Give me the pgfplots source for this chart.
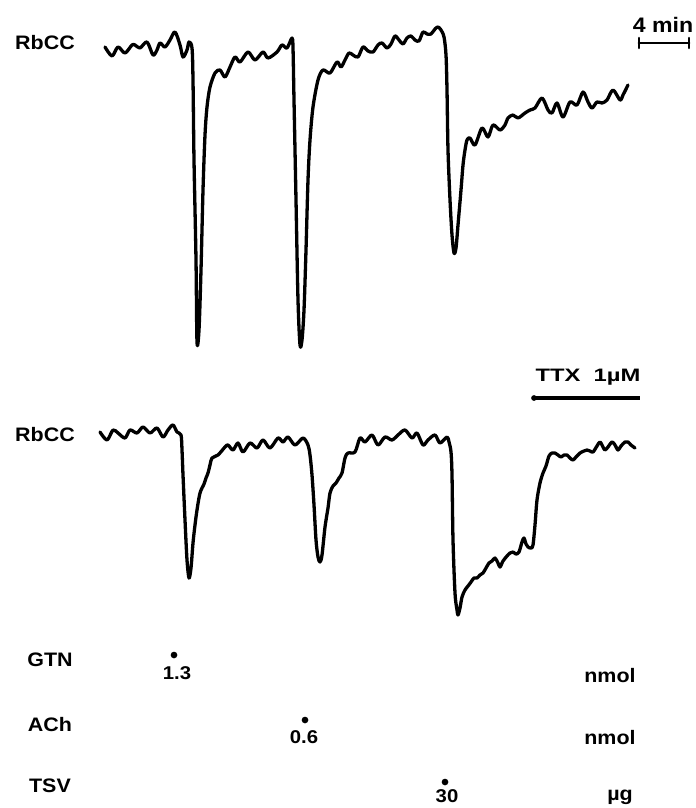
\documentclass[border=0pt]{standalone}
\usepackage{fontspec}
\setmainfont{Liberation Sans}
\newfontfamily\lab{Liberation Sans Bold}[FakeStretch=1.1]
\usepackage{pgfplots}
\pgfplotsset{compat=1.18}
\usepackage{graphicx}

\begin{document}
\begin{tikzpicture}

%%%%%%%%%%%%%%%%%%%%%%%%%%% Canvas: one axis in picture pixels %%%%%%%%%%%%%%%%
\begin{axis}[name=ax,
width=696bp,height=808bp,scale only axis,
xmin=0,xmax=696,ymin=0,ymax=808,
y dir=reverse,
hide axis,clip=false,
every axis plot/.append style={black,line join=round,line cap=round}]

%%%%%%%%%%%%%%%%%%%%%%%%%%% Upper trace (control) %%%%%%%%%%%%%%%%%%%%%%%%%%%
\addplot[no marks,line width=3.3bp,smooth,tension=0.5] coordinates {
(105,47) (112,56) (118,47) (125,53) (132,45) (135,45) (140,48) (147,42)
(153,55) (157,50) (160,43) (165,47) (170,40) (175,32) (180,45) (183,57)
(187,50) (189,42) (192,48) (193,80) (194,160) (196,260) (197,342) (199,330)
(201,270) (203,190) (205,135) (207,107) (210,87) (215,73) (220,70) (225,77)
(230,67) (235,57) (240,62) (248,52) (255,60) (263,52) (268,58) (277,52)
(282,45) (287,48) (292,38) (293,48) (294,100) (296,200) (298,300) (300,345)
(302,340) (304,310) (306,250) (308,180) (310,140) (313,107) (318,80) (323,70)
(330,73) (337,62) (341,67) (345,60) (349,53) (353,55) (358,57) (363,47)
(368,51) (373,52) (378,45) (382,43) (387,48) (391,44) (395,36) (399,40)
(403,44) (407,38) (411,36) (415,40) (419,41) (423,32) (427,34) (431,34)
(435,29) (438,27) (441,30) (444,37) (446,55) (447,90) (448,150) (450,200)
(452,235) (454,253) (456,248) (458,225) (461,190) (463,165) (465,150) (467,140)
(470,138) (475,145) (482,128) (488,137) (493,125) (500,130) (505,125) (508,118)
(513,115) (518,118) (525,113) (530,110) (535,108) (542,98) (548,110) (552,113)
(557,103) (563,117) (570,102) (577,105) (583,92) (588,102) (592,108) (597,102)
(602,103) (607,100) (613,90) (620,100) (623,95) (628,85)};

%%%%%%%%%%%%%%%%%%%%%%%%%%% Lower trace (TTX) %%%%%%%%%%%%%%%%%%%%%%%%%%%%%%%
\addplot[no marks,line width=3.3bp,smooth,tension=0.5] coordinates {
(100,432) (107,440) (113,430) (118,433) (125,438) (130,430) (137,433) (143,427)
(150,433) (157,428) (163,437) (168,430) (173,425) (177,432) (181,435) (182,450)
(183,475) (185,520) (187,560) (189,578) (191,568) (193,543) (195,525) (197,510)
(200,493) (204,484) (206,478) (208,473) (210,465) (212,458) (218,455) (225,447)
(228,445) (233,450) (238,443) (243,452) (250,443) (257,448) (263,440) (270,448)
(278,438) (283,442) (288,437) (295,445) (303,438) (308,445) (310,455) (312,475)
(314,505) (316,540) (318,557) (320,562) (322,555) (325,527) (328,508) (330,493)
(333,486) (336,483) (339,478) (342,473) (345,458) (348,453) (355,452) (360,438)
(365,442) (372,435) (378,445) (385,437) (392,440) (398,435) (405,430) (412,438)
(417,433) (423,445) (428,440) (435,435) (440,443) (447,437) (449,442) (451,452)
(452,475) (453,540) (455,593) (457,610) (458,615) (460,608) (462,597) (465,590)
(468,586) (471,582) (474,578) (477,578) (480,575) (483,573) (486,568) (489,563)
(492,561) (495,558) (498,563) (500,567) (503,561) (507,556) (510,553) (513,552)
(516,554) (519,552) (522,542) (524,538) (526,544) (528,547) (531,548) (533,545)
(535,525) (537,500) (540,483) (543,473) (546,466) (549,456) (552,453) (555,453)
(558,455) (561,457) (564,455) (567,455) (570,458) (573,460) (576,457) (580,453)
(584,451) (587,450) (590,451) (593,452) (597,446) (600,442) (603,447) (605,450)
(608,447) (612,442) (615,445) (618,450) (621,446) (625,442) (628,442) (631,445)
(635,448)};

%%%%%%%%%%%%%%%%%%%%%%%%%%% Scale bar and TTX bar %%%%%%%%%%%%%%%%%%%%%%%%%%%
\addplot[no marks,line width=2.8bp] coordinates {(639,43) (689,43)};
\addplot[no marks,line width=2.6bp] coordinates {(639,38) (639,48)};
\addplot[no marks,line width=2.6bp] coordinates {(689,38) (689,48)};
\addplot[no marks,line width=3.8bp,line cap=butt] coordinates {(534,398) (640,398)};
\addplot[only marks,mark=*,mark size=2.6bp] coordinates {(534,398)};

%%%%%%%%%%%%%%%%%%%%%%%%%%% Injection marks %%%%%%%%%%%%%%%%%%%%%%%%%%%%%%%%%
\addplot[only marks,mark=*,mark size=3.1bp] coordinates {(174,655) (305,720) (445,782)};

%%%%%%%%%%%%%%%%%%%%%%%%%%% Labels %%%%%%%%%%%%%%%%%%%%%%%%%%%%%%%%%%%%%%%%%%%
\begin{scope}[every node/.style={inner sep=0pt,font=\lab\fontsize{19.5bp}{21bp}\selectfont}]
\node at (axis cs:45,43) {RbCC};
\node at (axis cs:45,435) {RbCC};
\node at (axis cs:663,25) {\fontsize{21bp}{23bp}\selectfont 4 min};
\node at (axis cs:588,377) {\scalebox{1.2}[1]{\fontsize{18bp}{19bp}\selectfont TTX\ \ 1µM}};
\node at (axis cs:50,660) {GTN};
\node at (axis cs:50,725) {ACh};
\node at (axis cs:50,786) {TSV};
\node at (axis cs:177,673) {\fontsize{18.5bp}{20bp}\selectfont 1.3};
\node at (axis cs:304,737) {\fontsize{18.5bp}{20bp}\selectfont 0.6};
\node at (axis cs:447,796) {\fontsize{18.5bp}{20bp}\selectfont 30};
\node at (axis cs:610,676) {nmol};
\node at (axis cs:610,738) {nmol};
\node at (axis cs:620,797) {µg};
\end{scope}

\end{axis}

\pgfresetboundingbox
\useasboundingbox (ax.south west) rectangle (ax.north east);
\end{tikzpicture}
\end{document}
